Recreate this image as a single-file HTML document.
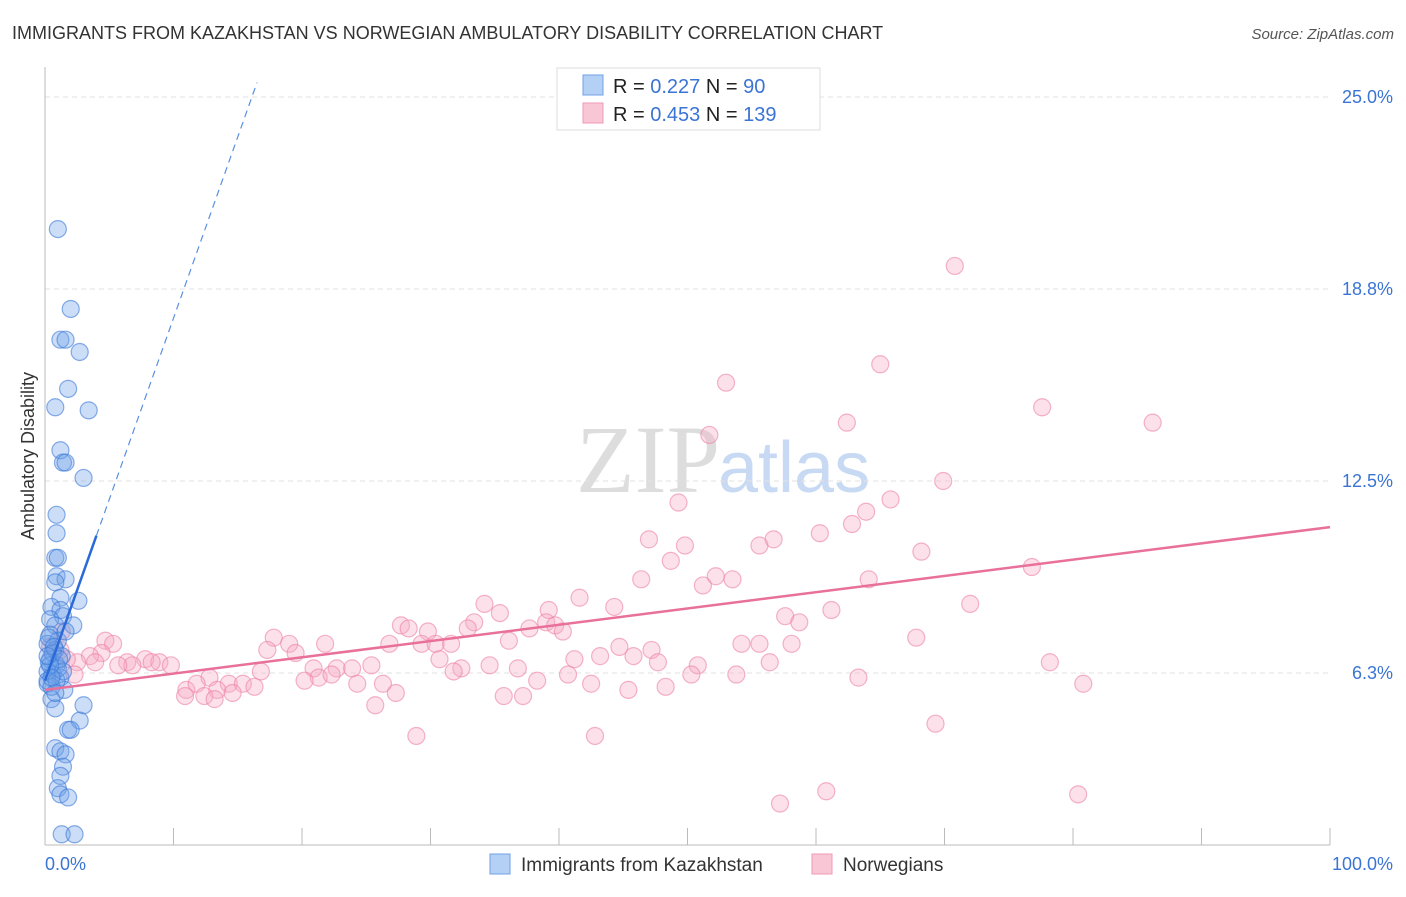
<!DOCTYPE html>
<html><head><meta charset="utf-8"><style>
body{margin:0;background:#fff;font-family:"Liberation Sans",sans-serif}
</style></head><body>
<svg id="c" width="1406" height="892" xmlns="http://www.w3.org/2000/svg">
<text x="12" y="39" font-size="18" fill="#333">IMMIGRANTS FROM KAZAKHSTAN VS NORWEGIAN AMBULATORY DISABILITY CORRELATION CHART</text>
<text x="1394" y="39" font-size="15" fill="#555" font-style="italic" text-anchor="end">Source: ZipAtlas.com</text>
<text x="720" y="492" font-size="96" fill="#ddd" text-anchor="end" font-family="Liberation Serif">ZIP</text>
<text x="718" y="492" font-size="72" fill="#c8daf3">atlas</text>
<text transform="translate(34,456) rotate(-90)" font-size="18" fill="#333" text-anchor="middle">Ambulatory Disability</text>
<g id="grid"></g><g id="pts"></g><g id="lines"></g>
<g>
<rect x="557" y="68" width="263" height="62" fill="#fff" stroke="#ddd"/>
<rect x="583" y="75" width="20" height="20" fill="#b5d0f5" stroke="#6fa0e8"/>
<rect x="583" y="103" width="20" height="20" fill="#f9c6d6" stroke="#ee9ab4"/>
<text x="613" y="93" font-size="20" fill="#222">R = <tspan fill="#3a74d4">0.227</tspan>   N =  <tspan fill="#3a74d4">90</tspan></text>
<text x="613" y="121" font-size="20" fill="#222">R = <tspan fill="#3a74d4">0.453</tspan>   N = <tspan fill="#3a74d4">139</tspan></text>
</g>
<g>
<rect x="490" y="854" width="20" height="20" fill="#b5d0f5" stroke="#6fa0e8"/>
<text x="521" y="871" font-size="19" fill="#333">Immigrants from Kazakhstan</text>
<rect x="812" y="854" width="20" height="20" fill="#f9c6d6" stroke="#ee9ab4"/>
<text x="843" y="871" font-size="19" fill="#333">Norwegians</text>
</g>
</svg>
<script>
const yTicks=[25.0,18.8,12.5,6.3];
const yTickVals=[25,18.75,12.5,6.25];
const xTickLabels=["0.0%","100.0%"];
const blueX=[1.0,2.0,1.2,1.6,2.7,1.8,0.8,3.4,1.2,1.4,1.6,3.0,0.9,0.9,0.8,1.0,0.9,1.6,0.8,1.2,2.6,0.5,1.2,1.4,0.4,2.2,0.8,0.4,1.0,0.2,0.8,1.3,0.4,0.9,0.2,0.6,1.2,0.2,1.5,0.5,3.0,0.8,2.7,1.8,2.0,0.8,1.2,1.6,1.4,1.2,1.0,1.2,1.8,1.3,2.3,0.3,0.6,1.0,0.2,0.5,0.9,1.4,0.3,0.7,1.1,0.4,0.8,0.2,1.6,0.5];
const blueY=[20.7,18.1,17.1,17.1,16.7,15.5,14.9,14.8,13.5,13.1,13.1,12.6,11.4,10.8,10.0,10.0,9.4,9.3,9.2,8.7,8.6,8.4,8.3,8.1,8.0,7.8,7.8,7.5,7.3,7.2,7.0,6.8,6.7,6.5,6.3,6.2,6.1,5.9,5.7,5.4,5.2,5.1,4.7,4.4,4.4,3.8,3.7,3.6,3.2,2.9,2.5,2.3,2.2,1.0,1.0,6.6,6.9,6.4,6.0,5.8,6.0,6.3,7.4,7.1,6.7,6.5,5.6,6.8,7.6,6.1];
const pinkX=[70.8,65.0,53.0,77.6,86.2,62.4,51.7,69.9,49.3,65.8,63.9,62.8,60.3,47.0,56.7,49.8,55.6,68.2,48.7,76.8,52.2,46.4,53.5,51.2,64.1,41.6,34.2,72.0,44.3,35.4,39.2,61.2,57.6,33.4,58.7,27.7,39.0,39.7,37.7,28.3,32.9,40.3,29.8,17.8,67.8,36.1,19.0,21.8,26.8,29.3,30.4,31.6,54.2,55.6,58.1,44.7,47.2,17.3,19.5,30.7,41.2,43.2,45.8,56.4,78.2,47.7,32.4,34.6,36.8,20.9,22.7,23.9,25.4,31.8,40.7,50.8,16.8,12.8,50.3,53.8,21.3,22.3,20.2,26.3,24.3,38.3,42.5,63.3,80.8,11.0,11.8,14.3,15.4,48.3,45.4,16.3,27.3,35.7,37.2,13.4,10.9,12.4,14.6,13.2,25.7,69.3,28.9,42.8,57.2,60.8,80.4,4.7,5.3,4.4,3.5,6.4,7.8,8.9,9.8,6.8,8.3,5.7,3.9,2.5,2.3,1.7,1.2,0.4,1.3];
const pinkY=[19.5,16.3,15.7,14.9,14.4,14.4,14.0,12.5,11.8,11.9,11.5,11.1,10.8,10.6,10.6,10.4,10.4,10.2,9.9,9.7,9.4,9.3,9.3,9.1,9.3,8.7,8.5,8.5,8.4,8.2,8.3,8.3,8.1,7.9,7.9,7.8,7.9,7.8,7.7,7.7,7.7,7.6,7.6,7.4,7.4,7.3,7.2,7.2,7.2,7.2,7.2,7.2,7.2,7.2,7.2,7.1,7.0,7.0,6.9,6.7,6.7,6.8,6.8,6.6,6.6,6.6,6.4,6.5,6.4,6.4,6.4,6.4,6.5,6.3,6.2,6.5,6.3,6.1,6.2,6.2,6.1,6.2,6.0,5.9,5.9,6.0,5.9,6.1,5.9,5.7,5.9,5.9,5.9,5.8,5.7,5.8,5.6,5.5,5.5,5.7,5.5,5.5,5.6,5.4,5.2,4.6,4.2,4.2,2.0,2.4,2.3,7.3,7.2,6.9,6.8,6.6,6.7,6.6,6.5,6.5,6.6,6.5,6.6,6.6,6.2,6.7,7.0,7.1,7.6];
const pinkLine=[5.7,11.0];
const blueLine={intercept:6.0,slope:1.18,solidEnd:4.0,dashEnd:16.5};
const X=v=>45+v/100*1285, Y=v=>865-v/6.25*192;
const NS="http://www.w3.org/2000/svg";
function mk(t,a,p){const e=document.createElementNS(NS,t);for(const k in a)e.setAttribute(k,a[k]);p.appendChild(e);return e;}
const grid=document.getElementById('grid'),pts=document.getElementById('pts'),lines=document.getElementById('lines');
yTickVals.forEach((v,i)=>{
 const l=mk('line',{x1:45,x2:1330,y1:Y(v),y2:Y(v),stroke:'#e2e2e2','stroke-dasharray':'5,4'},grid);
 
 
 const t=mk('text',{x:1393,y:Y(v)+6,'font-size':18,fill:'#3a74d4','text-anchor':'end'},grid);
 t.textContent=yTicks[i].toFixed(1)+'%';
 
 
});
const ax=mk('line',{x1:45,x2:45,y1:67,y2:845,stroke:'#bbb'},grid);


const bx=mk('line',{x1:45,x2:1330,y1:845,y2:845,stroke:'#bbb'},grid);


for(let i=0;i<=10;i++){const k=mk('line',{x1:X(i*10),x2:X(i*10),y1:828,y2:845,stroke:'#bbb'},grid);
 
 }
[[0,45,'start'],[1,1393,'end']].forEach(([i,x,a])=>{const t=mk('text',{x:x,y:870,'font-size':18,fill:'#3a74d4','text-anchor':a},grid);t.textContent=xTickLabels[i];
 
 });
pinkX.forEach((v,i)=>{const c=mk('circle',{cx:X(v),cy:Y(pinkY[i]),r:8.5,fill:'rgba(246,170,196,0.35)',stroke:'rgba(236,130,165,0.6)','stroke-width':1.2},pts);
 
 });
blueX.forEach((v,i)=>{const c=mk('circle',{cx:X(v),cy:Y(blueY[i]),r:8.5,fill:'rgba(110,160,232,0.35)',stroke:'rgba(60,120,215,0.6)','stroke-width':1.2},pts);
 
 });
const pl=mk('line',{x1:X(0),y1:Y(pinkLine[0]),x2:X(100),y2:Y(pinkLine[1]),stroke:'#e8709a','stroke-width':2.5},lines);


const by=x=>blueLine.intercept+blueLine.slope*x;
const bl=mk('line',{x1:X(0),y1:Y(by(0)),x2:X(blueLine.solidEnd),y2:Y(by(blueLine.solidEnd)),stroke:'#2a6ad8','stroke-width':2.5},lines);


const bd=mk('line',{x1:X(blueLine.solidEnd),y1:Y(by(blueLine.solidEnd)),x2:X(blueLine.dashEnd),y2:Y(by(blueLine.dashEnd)),stroke:'#5a8fe0','stroke-width':1.2,'stroke-dasharray':'7,5'},lines);


</script>
</body></html>
